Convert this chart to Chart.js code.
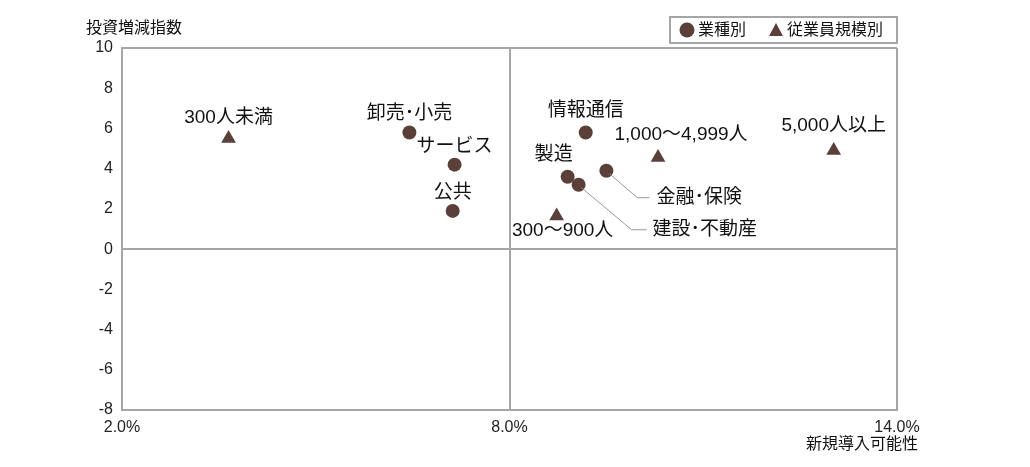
<!DOCTYPE html>
<html lang="ja">
<head>
<meta charset="utf-8">
<script src="https://cdn.jsdelivr.net/npm/chart.js@4.4.1/dist/chart.umd.min.js"></script>
<style>
  html, body { margin: 0; padding: 0; background: #fff; }
  #wrap { width: 1030px; height: 467px; position: relative; }
</style>
</head>
<body>
<div id="wrap"><canvas id="chart"></canvas></div>
<script>
// 新規導入可能性 (x, %) と 投資増減指数 (y)
const industryNames = ['卸売･小売', 'サービス', '公共', '情報通信', '製造', '建設･不動産', '金融･保険'];
const industryX     = [6.45, 7.15, 7.12, 9.18, 8.9, 9.07, 9.5];
const industryY     = [5.8, 4.2, 1.9, 5.8, 3.6, 3.2, 3.9];

const sizeNames = ['300人未満', '300～900人', '1,000～4,999人', '5,000人以上'];
const sizeX     = [3.65, 8.73, 10.3, 13.02];
const sizeY     = [5.5, 1.65, 4.55, 4.9];

const xTicks = [2, 8, 14];
const yMin = -8, yMax = 10;

const MARK  = '#5a4038';
const LINE  = '#a6a6a6';
const FONT  = '"Liberation Sans", "Noto Sans CJK JP", sans-serif';

// ラベル位置 (点からのずれ) と引き出し線
const labelOffset = {
  '卸売･小売': [0, -19], 'サービス': [0, -18], '公共': [0, -18], '情報通信': [0, -22],
  '製造': [-14, -22], '300人未満': [0, -21], '300～900人': [6, 15],
  '1,000～4,999人': [23, -23], '5,000人以上': [0, -25],
};
const leader = {
  '金融･保険':   { elbow: [31, 27], end: [43, 27], text: [50, 27] },
  '建設･不動産': { elbow: [53, 45], end: [68, 45], text: [74, 45] },
};

const toPoints = (xs, ys) => xs.map((x, i) => ({ x, y: ys[i] }));

const pointLabels = {
  id: 'pointLabels',
  afterDatasetsDraw(chart) {
    const ctx = chart.ctx;
    ctx.save();
    ctx.font = '19px ' + FONT;
    ctx.fillStyle = '#111';
    ctx.textBaseline = 'middle';
    chart.data.datasets.forEach((ds, di) => {
      chart.getDatasetMeta(di).data.forEach((pt, i) => {
        const name = ds.names[i];
        if (leader[name]) {
          const l = leader[name];
          ctx.strokeStyle = '#999';
          ctx.lineWidth = 1;
          ctx.beginPath();
          ctx.moveTo(pt.x + 3, pt.y + 3);
          ctx.lineTo(pt.x + l.elbow[0], pt.y + l.elbow[1]);
          ctx.lineTo(pt.x + l.end[0], pt.y + l.end[1]);
          ctx.stroke();
          ctx.textAlign = 'left';
          ctx.fillText(name, pt.x + l.text[0], pt.y + l.text[1]);
        } else {
          const o = labelOffset[name] || [0, -20];
          ctx.textAlign = 'center';
          ctx.fillText(name, pt.x + o[0], pt.y + o[1]);
        }
      });
    });
    ctx.restore();
  }
};

const titlesAndLegend = {
  id: 'titlesAndLegend',
  afterDraw(chart) {
    const ctx = chart.ctx;
    const area = chart.chartArea;
    ctx.save();
    ctx.fillStyle = '#111';
    ctx.font = '16px ' + FONT;
    ctx.textBaseline = 'middle';
    ctx.textAlign = 'left';
    ctx.fillText('投資増減指数', 86, 29);
    ctx.textAlign = 'right';
    ctx.fillText('新規導入可能性', area.right + 21, 445);

    // 凡例
    const bx = 670, by = 17, bw = area.right - bx, bh = 26;
    ctx.strokeStyle = LINE;
    ctx.lineWidth = 2;
    ctx.strokeRect(bx, by, bw, bh);
    const cy = by + bh / 2;
    ctx.fillStyle = MARK;
    ctx.beginPath();
    ctx.arc(bx + 17, cy, 7.5, 0, Math.PI * 2);
    ctx.fill();
    ctx.beginPath();
    ctx.moveTo(bx + 106, cy - 7);
    ctx.lineTo(bx + 113, cy + 6);
    ctx.lineTo(bx + 99, cy + 6);
    ctx.closePath();
    ctx.fill();
    ctx.fillStyle = '#111';
    ctx.textAlign = 'left';
    ctx.font = '16px ' + FONT;
    ctx.fillText(chart.data.datasets[0].label, bx + 28, cy + 1);
    ctx.fillText(chart.data.datasets[1].label, bx + 117, cy + 1);
    ctx.restore();
  }
};

const gridColor = keep => c => keep.includes(c.tick && c.tick.value) ? LINE : 'rgba(0,0,0,0)';

new Chart(document.getElementById('chart'), {
  type: 'scatter',
  data: {
    datasets: [
      {
        label: '業種別', names: industryNames, data: toPoints(industryX, industryY),
        pointStyle: 'circle', pointRadius: 7, pointHoverRadius: 7,
        backgroundColor: MARK, borderColor: MARK, borderWidth: 0,
      },
      {
        label: '従業員規模別', names: sizeNames, data: toPoints(sizeX, sizeY),
        pointStyle: 'triangle', pointRadius: 8.5, pointHoverRadius: 8.5,
        backgroundColor: MARK, borderColor: MARK, borderWidth: 0,
      },
    ],
  },
  options: {
    responsive: true,
    maintainAspectRatio: false,
    animation: false,
    layout: { padding: { top: 48, right: 133, bottom: 0, left: 0 } },
    plugins: { legend: { display: false }, tooltip: { enabled: false } },
    scales: {
      x: {
        type: 'linear', min: xTicks[0], max: xTicks[xTicks.length - 1],
        afterBuildTicks: s => { s.ticks = xTicks.map(v => ({ value: v })); },
        afterFit: s => { s.height = 57; },
        grid: { color: gridColor(xTicks), lineWidth: 2, drawTicks: false },
        border: { display: true, color: LINE, width: 2 },
        ticks: { padding: 8, color: '#222', font: { family: FONT, size: 16 }, callback: v => v.toFixed(1) + '%' },
      },
      y: {
        type: 'linear', min: yMin, max: yMax,
        afterFit: s => { s.width = 122; },
        grid: { color: gridColor([yMin, 0, yMax]), lineWidth: 2, drawTicks: false },
        border: { display: true, color: LINE, width: 2 },
        ticks: { stepSize: 2, padding: 9, color: '#222', font: { family: FONT, size: 16 } },
      },
    },
  },
  plugins: [pointLabels, titlesAndLegend],
});
</script>
</body>
</html>
